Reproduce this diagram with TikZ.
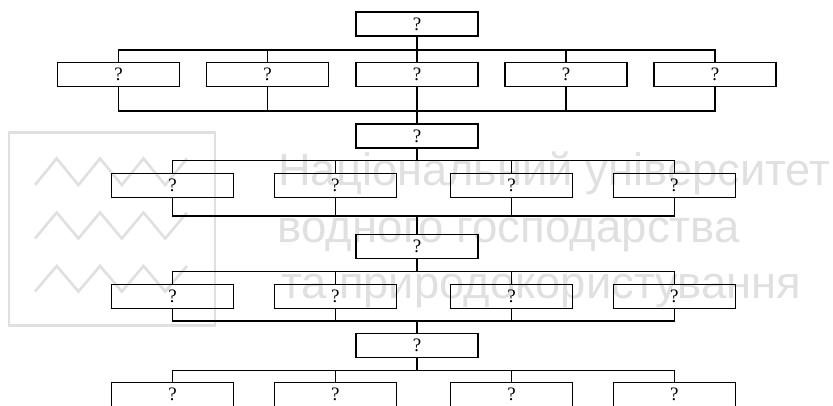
\documentclass[tikz,border=0pt]{standalone}
\usepackage{fontspec}
\setmainfont{Liberation Serif}
\newfontfamily\wmfont{Liberation Sans}
\definecolor{wmgray}{gray}{0.88}
\begin{document}
\begin{tikzpicture}[x=1pt,y=-1pt,
  box/.style={draw, line width=1.3pt, minimum width=122pt, minimum height=24pt,
    inner sep=0pt, font=\fontsize{19}{19}\selectfont},
  link/.style={line width=1.3pt},
  wmline/.style={draw=wmgray, line width=2.7pt, line join=miter},
  wmtext/.style={text=wmgray, inner sep=0pt, anchor=base west}]
\useasboundingbox (0,0) rectangle (833,405);
\clip (0,0) rectangle (833,405);

% watermark: emblem with three wave lines, and the university name
\draw[wmline] (9,132.7) rectangle (215,325.7);
\foreach \t/\p in {185/158.5, 238.5/212.5, 291.5/266}
  \draw[wmline] (35,\t) -- (56.7,\p) -- (78.4,\t) -- (100.1,\p) -- (121.8,\t)
    -- (143.5,\p) -- (165.2,\t) -- (186.9,\p);
\node[wmtext] (wm1) at (278,185) {\resizebox{552pt}{!}{\wmfont Національний університет}};
\node[wmtext] (wm2) at (277.6,242.5) {\resizebox{462pt}{!}{\wmfont водного господарства}};
\node[wmtext] (wm3) at (281,298.5) {\resizebox{520pt}{!}{\wmfont та природокористування}};

% bus levels
\coordinate (a1) at (0,50);
\coordinate (b1) at (0,111);
\coordinate (a2) at (0,160.7);
\coordinate (b2) at (0,216);
\coordinate (a3) at (0,271.7);
\coordinate (b3) at (0,321);
\coordinate (a4) at (0,370.3);

% central column
\node[box] (c1) at (417,24) {?};
\node[box] (c2) at (417,136) {?};
\node[box] (c3) at (417,246.7) {?};
\node[box] (c4) at (417,345.8) {?};

% first row: five boxes
\node[box] (r1a) at (118.5,74.2) {?};
\node[box] (r1b) at (267.5,74.2) {?};
\node[box] (r1c) at (417,74.2) {?};
\node[box] (r1d) at (566,74.2) {?};
\node[box] (r1e) at (715,74.2) {?};

% rows two to four: four boxes each
\foreach \r/\y in {2/185.2, 3/296.3, 4/394.8} {
  \node[box] (r\r a) at (172.5,\y) {?};
  \node[box] (r\r b) at (335.3,\y) {?};
  \node[box] (r\r c) at (511.5,\y) {?};
  \node[box] (r\r d) at (674.3,\y) {?};
}

% first row connections
\draw[link] (c1.south) -- (c1.south |- a1);
\draw[link] (r1a.north) |- (r1e.north |- a1) -- (r1e.north);
\foreach \n in {r1b,r1c,r1d} \draw[link] (\n.north) -- (\n.north |- a1);
\draw[link] (r1a.south) |- (r1e.south |- b1) -- (r1e.south);
\foreach \n in {r1b,r1c,r1d} \draw[link] (\n.south) -- (\n.south |- b1);
\draw[link] (c2.north) -- (c2.north |- b1);

% second row connections
\draw[link] (c2.south) -- (c2.south |- a2);
\draw[link] (r2a.north) |- (r2d.north |- a2) -- (r2d.north);
\foreach \n in {r2b,r2c} \draw[link] (\n.north) -- (\n.north |- a2);
\draw[link] (r2a.south) |- (r2d.south |- b2) -- (r2d.south);
\foreach \n in {r2b,r2c} \draw[link] (\n.south) -- (\n.south |- b2);
\draw[link] (c3.north) -- (c3.north |- b2);

% third row connections
\draw[link] (c3.south) -- (c3.south |- a3);
\draw[link] (r3a.north) |- (r3d.north |- a3) -- (r3d.north);
\foreach \n in {r3b,r3c} \draw[link] (\n.north) -- (\n.north |- a3);
\draw[link] (r3a.south) |- (r3d.south |- b3) -- (r3d.south);
\foreach \n in {r3b,r3c} \draw[link] (\n.south) -- (\n.south |- b3);
\draw[link] (c4.north) -- (c4.north |- b3);

% fourth row connections
\draw[link] (c4.south) -- (c4.south |- a4);
\draw[link] (r4a.north) |- (r4d.north |- a4) -- (r4d.north);
\foreach \n in {r4b,r4c} \draw[link] (\n.north) -- (\n.north |- a4);
\end{tikzpicture}
\end{document}
